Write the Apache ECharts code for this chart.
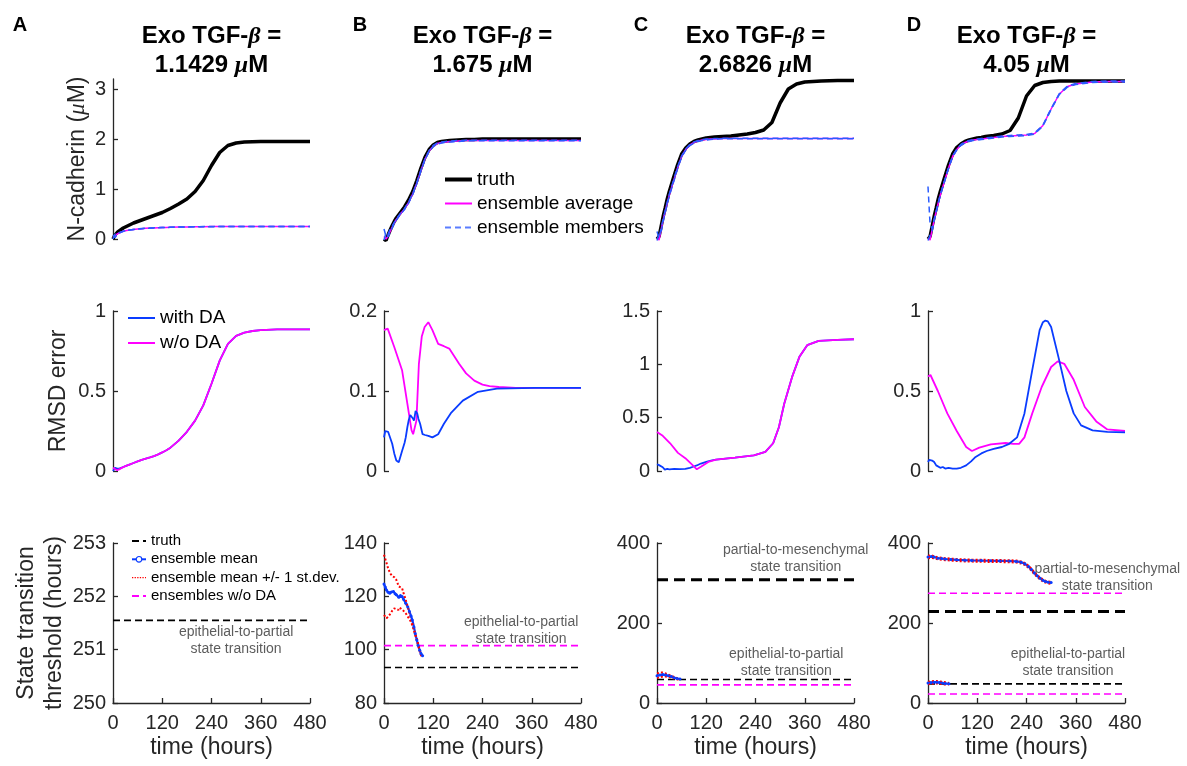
<!DOCTYPE html>
<html><head><meta charset="utf-8">
<script src="https://cdn.jsdelivr.net/npm/echarts@6/dist/echarts.min.js"></script>
<style>html,body{margin:0;padding:0;background:#fff}#c{width:1187px;height:766px}</style>
</head><body><div id="c"></div>
<script>
// ---------- DATA ----------
const panelLetters = ['A', 'B', 'C', 'D'];
const tgfValues = ['1.1429', '1.675', '2.6826', '4.05'];
const xTicks = [0, 120, 240, 360, 480];

// common time grid (hours) for top/middle smooth curves
const T = [0,5,10,15,20,25,30,40,50,60,70,80,90,100,110,120,130,140,160,180,200,220,240,260,280,300,320,340,360,400,440,480];

// Top row: N-cadherin (uM)
const topA_truth = [0,0.08,0.13,0.16,0.19,0.22,0.24,0.28,0.32,0.35,0.38,0.41,0.44,0.47,0.5,0.53,0.57,0.61,0.7,0.8,0.95,1.17,1.47,1.73,1.87,1.92,1.94,1.945,1.95,1.95,1.95,1.95];
const topA_avg   = [0.02,0.06,0.1,0.12,0.14,0.155,0.165,0.18,0.19,0.2,0.207,0.213,0.218,0.222,0.226,0.229,0.232,0.235,0.239,0.242,0.245,0.247,0.248,0.249,0.25,0.25,0.25,0.25,0.25,0.25,0.25,0.25];
const topA_mem1  = [0.08,0.03,0.09,0.12,0.14,0.156,0.166,0.181,0.191,0.201,0.208,0.214,0.219,0.223,0.227,0.23,0.233,0.236,0.24,0.243,0.246,0.248,0.249,0.25,0.251,0.251,0.251,0.251,0.251,0.251,0.251,0.251];
const topA_mem2  = [0.0,0.1,0.08,0.125,0.138,0.153,0.164,0.179,0.189,0.199,0.206,0.212,0.217,0.221,0.225,0.228,0.231,0.234,0.238,0.241,0.244,0.246,0.247,0.248,0.249,0.249,0.249,0.249,0.249,0.249,0.249,0.249];

const topB_truth = [0,-0.03,0.08,0.18,0.27,0.35,0.42,0.53,0.64,0.78,0.95,1.17,1.42,1.64,1.79,1.88,1.93,1.95,1.97,1.98,1.99,1.99,2.0,2.0,2.0,2.0,2.0,2.0,2.0,2.0,2.0,2.0];
const topB_avg   = [0.05,0.0,0.06,0.15,0.24,0.32,0.39,0.5,0.6,0.73,0.9,1.12,1.37,1.6,1.76,1.86,1.91,1.93,1.95,1.96,1.97,1.97,1.97,1.97,1.97,1.97,1.97,1.97,1.97,1.97,1.97,1.97];
const topB_mem1  = [0.2,0.05,0.1,0.2,0.26,0.33,0.4,0.51,0.61,0.74,0.91,1.13,1.38,1.61,1.77,1.87,1.92,1.94,1.96,1.97,1.975,1.975,1.975,1.975,1.975,1.975,1.975,1.975,1.975,1.975,1.975,1.975];
const topB_mem2  = [-0.02,0.12,0.04,0.13,0.22,0.31,0.38,0.49,0.59,0.72,0.89,1.11,1.36,1.59,1.75,1.85,1.9,1.92,1.94,1.95,1.965,1.965,1.965,1.965,1.965,1.965,1.965,1.965,1.965,1.965,1.965,1.965];

const topC_truth = [0,0.05,0.25,0.45,0.62,0.8,0.95,1.22,1.48,1.7,1.82,1.9,1.95,1.98,2.0,2.02,2.03,2.04,2.05,2.06,2.08,2.1,2.13,2.18,2.33,2.72,3.0,3.1,3.14,3.16,3.17,3.17];
const topC_avg   = [0.02,-0.02,0.18,0.38,0.55,0.72,0.88,1.15,1.42,1.65,1.79,1.88,1.93,1.96,1.98,1.99,2.0,2.0,2.01,2.01,2.01,2.01,2.01,2.01,2.01,2.01,2.01,2.01,2.01,2.01,2.01,2.01];
const topC_mem1  = [0.15,0.02,0.22,0.4,0.57,0.74,0.9,1.17,1.44,1.66,1.8,1.89,1.94,1.97,1.99,2.0,2.0,2.01,2.015,2.015,2.015,2.015,2.015,2.015,2.015,2.015,2.015,2.015,2.015,2.015,2.015,2.015];
const topC_mem2  = [-0.03,0.1,0.14,0.35,0.53,0.7,0.86,1.13,1.4,1.64,1.78,1.87,1.92,1.95,1.97,1.98,1.99,2.0,2.005,2.005,2.005,2.005,2.005,2.005,2.005,2.005,2.005,2.005,2.005,2.005,2.005,2.005];

const topD_truth = [0,0.05,0.25,0.45,0.62,0.8,0.95,1.22,1.48,1.7,1.83,1.9,1.95,1.98,2.0,2.02,2.03,2.05,2.07,2.1,2.17,2.42,2.86,3.07,3.13,3.15,3.16,3.16,3.16,3.16,3.16,3.16];
const topD_avg   = [0.02,-0.02,0.18,0.38,0.55,0.72,0.88,1.15,1.42,1.65,1.79,1.88,1.93,1.96,1.98,1.99,2.0,2.01,2.03,2.05,2.06,2.07,2.08,2.11,2.27,2.6,2.9,3.05,3.1,3.14,3.15,3.15];
const topD_mem1  = [1.05,0.3,0.2,0.39,0.56,0.73,0.89,1.16,1.43,1.66,1.8,1.89,1.94,1.97,1.99,2.0,2.01,2.02,2.04,2.06,2.07,2.08,2.09,2.12,2.28,2.61,2.91,3.06,3.11,3.15,3.16,3.16];
const topD_mem2  = [-0.03,0.08,0.15,0.37,0.54,0.71,0.87,1.14,1.41,1.64,1.78,1.87,1.92,1.95,1.97,1.98,1.99,2.0,2.02,2.04,2.05,2.06,2.07,2.1,2.26,2.59,2.89,3.04,3.09,3.13,3.14,3.14];

// Middle row: RMSD error
const midA_with = [0.0,0.02,0.015,0.015,0.02,0.025,0.03,0.04,0.05,0.06,0.07,0.078,0.085,0.093,0.104,0.116,0.13,0.146,0.19,0.245,0.315,0.41,0.545,0.69,0.795,0.845,0.865,0.875,0.88,0.885,0.885,0.885];
const midA_wo   = [0.02,0.012,0.005,0.01,0.018,0.024,0.03,0.04,0.05,0.06,0.07,0.078,0.085,0.093,0.104,0.116,0.13,0.146,0.19,0.245,0.315,0.41,0.545,0.69,0.795,0.845,0.865,0.875,0.88,0.885,0.885,0.885];

const midB_wo_t   = [0,9,25,44,57,67,71,79,85,92,99,108,118,132,146,159,183,200,220,240,257,280,321,400,480];
const midB_wo     = [0.176,0.178,0.155,0.126,0.084,0.051,0.046,0.063,0.134,0.168,0.18,0.186,0.176,0.159,0.156,0.153,0.134,0.122,0.113,0.108,0.106,0.105,0.104,0.104,0.104];
const midB_with_t = [0,3,6,10,14,20,25,30,36,44,50,53,57,60,64,67,70,73,77,81,84,88,94,100,108,118,132,146,164,192,229,275,368,480];
const midB_with   = [0.042,0.05,0.052,0.049,0.048,0.034,0.022,0.013,0.011,0.025,0.035,0.042,0.055,0.063,0.07,0.072,0.066,0.063,0.075,0.072,0.065,0.059,0.046,0.045,0.044,0.042,0.046,0.059,0.073,0.088,0.099,0.103,0.104,0.104];

const midC_wo_t   = [0,14,32,51,69,88,97,107,125,144,190,236,264,283,297,310,329,347,366,394,440,480];
const midC_wo     = [0.366,0.33,0.26,0.17,0.12,0.05,0.016,0.04,0.085,0.106,0.125,0.147,0.18,0.26,0.41,0.63,0.88,1.07,1.18,1.22,1.23,1.235];
const midC_with_t = [0,5,9,14,19,25,30,42,55,69,80,88,97,107,120,134,144,190,236,264,283,297,310,329,347,366,394,440,480];
const midC_with   = [0.063,0.055,0.053,0.035,0.013,0.02,0.016,0.02,0.018,0.02,0.03,0.04,0.052,0.07,0.085,0.1,0.106,0.125,0.147,0.18,0.26,0.41,0.63,0.88,1.07,1.18,1.22,1.23,1.235];

const midD_wo_t   = [0,6,24,47,70,93,107,125,153,189,208,222,235,254,277,300,316,332,355,382,410,437,480];
const midD_wo     = [0.59,0.6,0.5,0.36,0.25,0.15,0.125,0.146,0.167,0.175,0.17,0.17,0.21,0.36,0.525,0.65,0.685,0.67,0.57,0.4,0.31,0.26,0.25];
const midD_with_t = [0,3,6,10,15,20,24,30,36,42,50,60,70,80,93,105,116,130,143,160,180,198,217,235,254,272,280,286,292,300,318,337,355,373,401,437,480];
const midD_with   = [0.056,0.07,0.077,0.065,0.056,0.035,0.025,0.02,0.025,0.015,0.02,0.015,0.015,0.02,0.035,0.06,0.088,0.11,0.125,0.138,0.15,0.17,0.21,0.36,0.63,0.88,0.93,0.94,0.935,0.9,0.71,0.5,0.36,0.285,0.254,0.244,0.242];

// Bottom row: state transition thresholds (hours)
const botA_truthEP = 251.55;

const botB_truthEP = 93.3, botB_woEP = 101.5;
const botB_mean_t = [0,3,6,10,14,18,23,27,30,36,40,44,48,53,58,62,66,69,73,76,80,83,87,90,94];
const botB_mean   = [124.6,123.5,122.4,121.5,121.2,121.6,121.8,121.0,120.6,119.7,120.3,119.9,118.8,117.4,116,114.3,112.6,111.1,108.5,106.1,103.6,101.7,99.8,98.6,97.7];
const botB_up_t = [0,5,11,16,20,25,30,36,40,44,48,53,58,62,66,71,76,81,86,90];
const botB_up   = [135.6,133.1,130,128.5,127.5,127.2,126.2,123.7,124,123.1,121,118.7,116,113.7,111.5,108.6,106,103.6,100.5,98.0];
const botB_lo_t = [0,6,11,16,20,25,30,35,38,42,46,49,54,58,63,67,72,76,81,85,88,92];
const botB_lo   = [113,111.8,112.5,113.6,114.6,115.5,115.2,114.9,115.8,115.5,114.8,114.3,113.4,112.4,111.2,109.9,107.8,105.5,103,100.5,98.8,97.3];

const botC_truthPM = 308, botC_truthEP = 58.6, botC_woEP = 45.2;
const botC_t    = [0,7,14,21,28,35,42,49,56];
const botC_mean = [68,70,71,70,68,66,63,61,60];
const botC_up   = [74,76,76,74,71,68,65,62,61];
const botC_lo   = [63,64,66,66,65,63,61,59,59];

const botD_truthPM = 228.5, botD_woPM = 274.5, botD_truthEP = 47.7, botD_woEP = 22.6;
const botD_pm_t    = [0,8,15,24,33,42,56,70,90,107,130,153,175,199,215,227,236,245,252,259,266,273,280,286,293,300];
const botD_pm_mean = [365,366,365,362,361,360,359,358,357,356.5,356,355.6,355.3,355,354,352,348,341,334,325,318,312,307,304,302,301];
const botD_pm_up   = [368,369,367,364,363,362,361,360,359,358.5,358,357.6,357.3,357,356,354,350,343,336,327,320,314,309,306,304,303];
const botD_pm_lo   = [362,363,362,359,358,357,356,355,354,353.5,353,352.6,352.3,352,351,349,345,338,331,322,315,309,304,301,299,298];
const botD_ep_t    = [0,7,14,21,28,35,42,51];
const botD_ep_mean = [50,51,52,52,51,50,49,48];
const botD_ep_up   = [53,54,55,55,54,53,52,50];
const botD_ep_lo   = [47,48,49,49,48,47,46,46];

const annoEP = 'epithelial-to-partial\nstate transition';
const annoPM = 'partial-to-mesenchymal\nstate transition';
const annotations = [
  {panel: 8,  t: 300, v: 251.165, text: annoEP},
  {panel: 9,  t: 334, v: 107.0,   text: annoEP},
  {panel: 10, t: 338, v: 362,     text: annoPM},
  {panel: 10, t: 315, v: 100,     text: annoEP},
  {panel: 11, t: 437, v: 313,     text: annoPM},
  {panel: 11, t: 341, v: 100,     text: annoEP}
];

// ---------- STYLE / LAYOUT ----------
const FONT = '"Liberation Sans", Helvetica, Arial, sans-serif';
const AX = '#262626';
const BLUE = '#0a3cff', MAG = '#ff00ff', RED = '#ff0000', MEMBLUE = '#2a5cff';
const colLeft = [113, 384, 657, 928], rowTop = [79, 311, 543], W = 197, H = 160;
const yRanges = [
  [[0,3.2,[0,1,2,3]],[0,3.2,[0,1,2,3]],[0,3.2,[0,1,2,3]],[0,3.2,[0,1,2,3]]],
  [[0,1,[0,0.5,1]],[0,0.2,[0,0.1,0.2]],[0,1.5,[0,0.5,1,1.5]],[0,1,[0,0.5,1]]],
  [[250,253,[250,251,252,253]],[80,140,[80,100,120,140]],[0,400,[0,200,400]],[0,400,[0,200,400]]]
];

const grids = [], xAxes = [], yAxes = [];
for (let r = 0; r < 3; r++) for (let c = 0; c < 4; c++) {
  const g = r * 4 + c;
  grids.push({left: colLeft[c], top: rowTop[r], width: W, height: H});
  xAxes.push({
    gridIndex: g, type: 'value', min: 0, max: 480, show: r === 2,
    axisLine: {lineStyle: {color: AX, width: 1.3}},
    axisTick: {inside: true, length: 5, lineStyle: {color: AX, width: 1.3}, customValues: xTicks},
    axisLabel: {fontSize: 20, color: AX, margin: 10, fontFamily: FONT, customValues: xTicks},
    splitLine: {show: false},
    name: r === 2 ? 'time (hours)' : '', nameLocation: 'middle', nameGap: 33,
    nameTextStyle: {fontSize: 23, color: AX, fontFamily: FONT}
  });
  const yr = yRanges[r][c];
  const ya = {
    gridIndex: g, type: 'value', min: yr[0], max: yr[1], show: !(r === 0 && c > 0),
    axisLine: {show: true, lineStyle: {color: AX, width: 1.3}},
    axisTick: {show: true, inside: true, length: 5, lineStyle: {color: AX, width: 1.3}, customValues: yr[2]},
    axisLabel: {fontSize: 20, color: AX, margin: 7, fontFamily: FONT, customValues: yr[2]},
    splitLine: {show: false}, nameLocation: 'middle', nameRotate: 90,
    nameTextStyle: {fontSize: 23, color: AX, fontFamily: FONT}
  };
  if (g === 0) {
    ya.name = '{n|N-cadherin (}{m|μ}{n|M)}'; ya.nameGap = 24;
    ya.nameTextStyle.rich = {n: {fontSize: 23, color: AX, fontFamily: FONT}, m: {fontSize: 23, color: AX, fontStyle: 'italic', fontFamily: '"Liberation Serif", serif'}};
  }
  if (g === 4) { ya.name = 'RMSD error'; ya.nameGap = 43; }
  if (g === 8) { ya.name = 'State transition\nthreshold (hours)'; ya.nameGap = 44; ya.nameTextStyle.lineHeight = 28; }
  yAxes.push(ya);
}

const S = [];
function ln(g, name, t, v, ls, extra) {
  S.push(Object.assign({
    type: 'line', name: name, xAxisIndex: g, yAxisIndex: g,
    data: t.map((x, i) => [x, v[i]]), symbol: 'none', silent: true, clip: false,
    lineStyle: ls, itemStyle: {color: ls.color}, animation: false
  }, extra || {}));
}
function hl(g, name, v, ls) { ln(g, name, [0, 480], [v, v], ls); }

const sTruth = {color: '#000', width: 3.5};
const sAvg = {color: MAG, width: 1.5};
const sMem = {color: MEMBLUE, width: 1.5, type: [6, 4]};
const tops = [[topA_truth, topA_avg, topA_mem1, topA_mem2], [topB_truth, topB_avg, topB_mem1, topB_mem2],
              [topC_truth, topC_avg, topC_mem1, topC_mem2], [topD_truth, topD_avg, topD_mem1, topD_mem2]];
tops.forEach((p, c) => {
  ln(c, 'truth', T, p[0], sTruth);
  ln(c, 'ensemble average', T, p[1], sAvg);
  ln(c, 'ensemble members', T, p[2], sMem);
  ln(c, 'ensemble members', T, p[3], sMem);
});

const sWith = {color: BLUE, width: 1.8};
const sWo = {color: MAG, width: 1.8};
ln(4, 'with DA', T, midA_with, sWith);
ln(4, 'w/o DA', T, midA_wo, sWo);
ln(5, 'w/o DA', midB_wo_t, midB_wo, sWo);
ln(5, 'with DA', midB_with_t, midB_with, sWith);
ln(6, 'with DA', midC_with_t, midC_with, sWith);
ln(6, 'w/o DA', midC_wo_t, midC_wo, sWo);
ln(7, 'w/o DA', midD_wo_t, midD_wo, sWo);
ln(7, 'with DA', midD_with_t, midD_with, sWith);

const sTb = {color: '#000', width: 1.6, type: [7, 4]};
const sTbThick = {color: '#000', width: 3, type: [11, 6]};
const sWoB = {color: MAG, width: 1.6, type: [7, 4]};
const sMean = {color: BLUE, width: 2.2};
const meanExtra = {symbol: 'circle', symbolSize: 3, showSymbol: true, showAllSymbol: true};
const sSd = {color: RED, width: 2, type: 'dotted'};

hl(8, 'truth_b', botA_truthEP, sTb);

hl(9, 'truth_b', botB_truthEP, sTb);
hl(9, 'ensembles w/o DA', botB_woEP, sWoB);
ln(9, 'ensemble mean', botB_mean_t, botB_mean, sMean, meanExtra);
ln(9, 'ensemble mean +/- 1 st.dev.', botB_up_t, botB_up, sSd);
ln(9, 'ensemble mean +/- 1 st.dev.', botB_lo_t, botB_lo, sSd);

hl(10, 'truth_b', botC_truthPM, sTbThick);
hl(10, 'truth_b', botC_truthEP, sTb);
hl(10, 'ensembles w/o DA', botC_woEP, sWoB);
ln(10, 'ensemble mean', botC_t, botC_mean, sMean, meanExtra);
ln(10, 'ensemble mean +/- 1 st.dev.', botC_t, botC_up, sSd);
ln(10, 'ensemble mean +/- 1 st.dev.', botC_t, botC_lo, sSd);

hl(11, 'ensembles w/o DA', botD_woPM, sWoB);
hl(11, 'truth_b', botD_truthPM, sTbThick);
hl(11, 'truth_b', botD_truthEP, sTb);
hl(11, 'ensembles w/o DA', botD_woEP, sWoB);
ln(11, 'ensemble mean', botD_pm_t, botD_pm_mean, sMean, meanExtra);
ln(11, 'ensemble mean +/- 1 st.dev.', botD_pm_t, botD_pm_up, sSd);
ln(11, 'ensemble mean +/- 1 st.dev.', botD_pm_t, botD_pm_lo, sSd);
ln(11, 'ensemble mean', botD_ep_t, botD_ep_mean, sMean, meanExtra);
ln(11, 'ensemble mean +/- 1 st.dev.', botD_ep_t, botD_ep_up, sSd);
ln(11, 'ensemble mean +/- 1 st.dev.', botD_ep_t, botD_ep_lo, sSd);

annotations.forEach(a => {
  S.push({
    type: 'scatter', name: 'annot', xAxisIndex: a.panel, yAxisIndex: a.panel, silent: true, animation: false,
    data: [[a.t, a.v]], symbolSize: 1, itemStyle: {color: 'rgba(0,0,0,0)'}, clip: false,
    label: {show: true, position: 'inside', formatter: a.text, fontSize: 14, lineHeight: 17,
            color: '#333', fontFamily: FONT, align: 'center', verticalAlign: 'middle'}
  });
});

// titles
const titles = [];
const letterX = [15, 355, 636, 909];
panelLetters.forEach((L, c) => {
  titles.push({text: L, left: letterX[c], top: 10, textAlign: 'center',
    textStyle: {fontSize: 20, fontWeight: 'bold', color: '#000', fontFamily: FONT}});
  titles.push({
    text: '{b|Exo TGF-}{g|β}{b| =}\n{b|' + tgfValues[c] + ' }{g|μ}{b|M}',
    left: colLeft[c] + W / 2 - 5, top: 17, textAlign: 'center',
    textStyle: {rich: {
      b: {fontSize: 24, fontWeight: 'bold', color: '#000', fontFamily: FONT, lineHeight: 29},
      g: {fontSize: 24, fontStyle: 'italic', color: '#000', fontFamily: '"Liberation Serif", serif', lineHeight: 29}
    }}
  });
});

const noSym = {color: 'rgba(0,0,0,0)', borderWidth: 0, opacity: 0};
const chart = echarts.init(document.getElementById('c'), null, {renderer: 'canvas'});
chart.setOption({
  animation: false,
  backgroundColor: '#fff',
  title: titles,
  grid: grids, xAxis: xAxes, yAxis: yAxes, series: S,
  legend: [
    {data: [{name: 'truth', itemStyle: noSym, lineStyle: {width: 4}},
            {name: 'ensemble average', itemStyle: noSym, lineStyle: {width: 2}},
            {name: 'ensemble members', itemStyle: noSym, lineStyle: {width: 2, color: '#5a7dff'}}],
     orient: 'vertical', left: 438, top: 163,
     itemWidth: 27, itemHeight: 14, itemGap: 1, selectedMode: false,
     textStyle: {fontSize: 19, lineHeight: 23, color: '#000', fontFamily: FONT}},
    {data: [{name: 'with DA', itemStyle: noSym, lineStyle: {width: 2}}, {name: 'w/o DA', itemStyle: noSym, lineStyle: {width: 2}}],
     orient: 'vertical', left: 122, top: 301,
     itemWidth: 27, itemHeight: 14, itemGap: 1, selectedMode: false,
     textStyle: {fontSize: 19, lineHeight: 24, color: '#000', fontFamily: FONT}},
    {data: [{name: 'truth_b', itemStyle: noSym},
            {name: 'ensemble mean', itemStyle: {color: '#fff', borderColor: BLUE, borderWidth: 1.2}},
            {name: 'ensemble mean +/- 1 st.dev.', itemStyle: noSym, lineStyle: {width: 1.3, color: RED, type: 'dotted'}},
            {name: 'ensembles w/o DA', itemStyle: noSym}],
     orient: 'vertical', left: 126, top: 527, itemWidth: 14, itemHeight: 7, itemGap: 0.3, selectedMode: false,
     formatter: n => n === 'truth_b' ? 'truth' : n,
     textStyle: {fontSize: 15, lineHeight: 18, color: '#000', fontFamily: FONT}}
  ]
});
</script></body></html>
